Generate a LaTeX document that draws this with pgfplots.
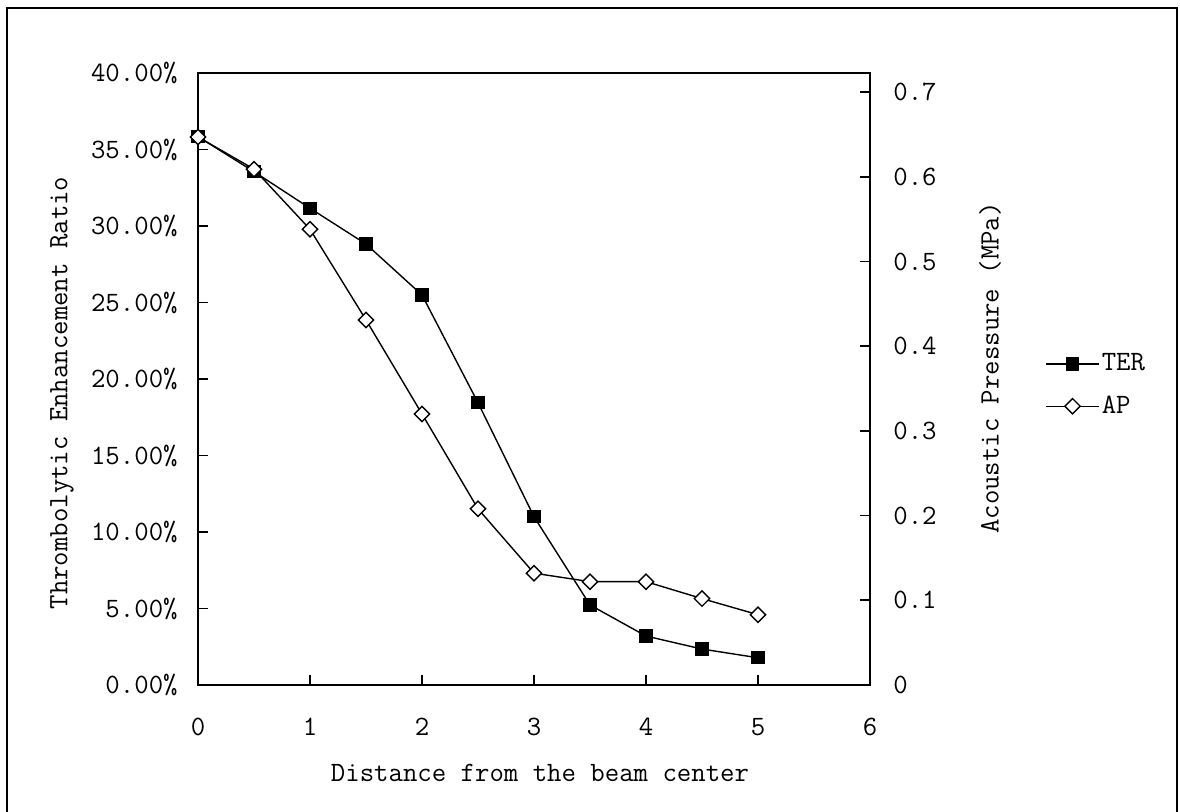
\documentclass[border=0pt]{standalone}
\usepackage{fontspec}
\usepackage{pgfplots}
\pgfplotsset{compat=1.18}

% typewriter serif for every label of the chart
\newcommand{\chartfont}{\ttfamily\fontsize{14pt}{16pt}\selectfont}

% Thrombolytic enhancement ratio (fraction) against distance
\pgfplotstableread{
x    ter
0    0.3584
0.5  0.3355
1    0.3116
1.5  0.2882
2    0.2549
2.5  0.1845
3    0.1100
3.5  0.0523
4    0.0320
4.5  0.0235
5    0.0178
}\terdata

% Acoustic pressure (MPa) against distance
\pgfplotstableread{
x    ap
0    0.647
0.5  0.609
1    0.538
1.5  0.431
2    0.320
2.5  0.208
3    0.132
3.5  0.122
4    0.122
4.5  0.102
5    0.083
}\apdata

\pgfplotsset{
  chartaxis/.style={
    at={(99pt,63pt)}, anchor=south west,
    width=336pt, height=306pt, scale only axis,
    xmin=0, xmax=6,
    axis line style={line width=0.9pt},
    tick style={line width=0.8pt, black},
    major tick length=5pt,
    tick align=inside,
    /pgf/number format/assume math mode=true,
    tick label style={font=\chartfont, inner sep=0pt},
  },
  terline/.style={black, line width=0.7pt, mark=square*, mark size=3pt,
    mark options={solid, fill=black}},
  apline/.style={black, line width=0.7pt, mark=square*, mark size=2.7pt,
    mark options={solid, fill=white, rotate=45, line width=0.7pt}},
}

\begin{document}
\begin{tikzpicture}
\useasboundingbox (0,0) rectangle (590pt,405.5pt);

% outer frame
\draw[line width=1pt] (3.5pt,-5pt) -- (3.5pt,401.5pt) -- (588.5pt,401.5pt) -- (588.5pt,-5pt);

% left axis: thrombolytic enhancement ratio
\begin{axis}[chartaxis,
  ymin=0, ymax=0.40,
  xtick={0,1,2,3,4,5,6},
  xticklabels={0,1,2,3,4,5,6},
  xtick pos=bottom,
  xticklabel style={anchor=center, yshift=-21pt},
  ytick={0,0.05,0.10,0.15,0.20,0.25,0.30,0.35,0.40},
  yticklabels={0.00\%,5.00\%,10.00\%,15.00\%,20.00\%,25.00\%,30.00\%,35.00\%,40.00\%},
  ytick pos=left,
  yticklabel style={anchor=east, xshift=-10pt},
]
\addplot[terline] table[x=x, y=ter] {\terdata};
\end{axis}

% right axis: acoustic pressure
\begin{axis}[chartaxis,
  ymin=0, ymax=0.7225,
  axis x line=none,
  axis y line*=right,
  ytick={0,0.1,0.2,0.3,0.4,0.5,0.6,0.7},
  yticklabels={0,0.1,0.2,0.3,0.4,0.5,0.6,0.7},
  yticklabel style={anchor=west, xshift=11.5pt},
  legend style={at={(1.2604,0.545)}, anchor=north west, draw=none, fill=none,
    font=\chartfont, inner sep=0pt, row sep=9pt,
    nodes={inner sep=1pt}},
  legend cell align=left,
  legend image code/.code={
    \draw[mark repeat=2, mark phase=2] plot coordinates {(0pt,0pt) (13.25pt,0pt) (26.5pt,0pt)};},
]
\addlegendimage{terline}
\addlegendentry{TER}
\addplot[apline] table[x=x, y=ap] {\apdata};
\addlegendentry{AP}
\end{axis}

% axis titles
\node[font=\chartfont] at (270pt,19pt) {Distance from the beam center};
\node[font=\chartfont, rotate=90] at (31pt,209pt) {Thrombolytic Enhancement Ratio};
\node[font=\chartfont, rotate=90] at (495pt,221.5pt) {Acoustic Pressure (MPa)};
\end{tikzpicture}
\end{document}
